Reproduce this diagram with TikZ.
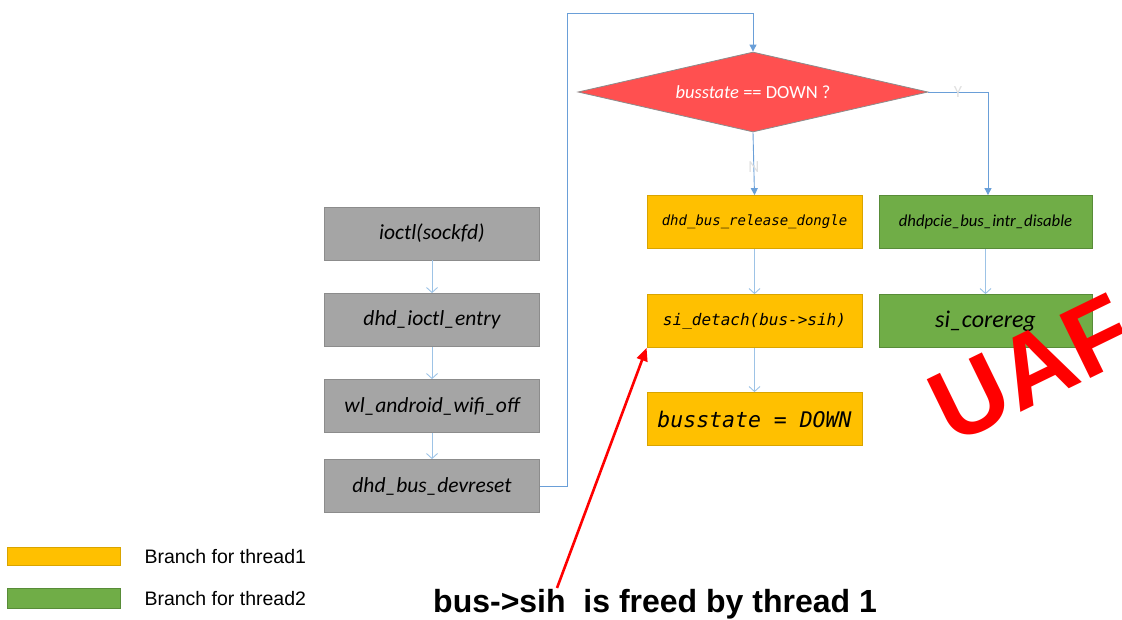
\documentclass[tikz,border=0pt]{standalone}
\usepackage{fontspec}
\setmainfont{Carlito}
\newfontfamily\arialf{Liberation Sans}
\newfontfamily\monof{DejaVu Sans Mono}
\usetikzlibrary{arrows.meta,shapes.geometric}
\definecolor{grayfill}{HTML}{A5A5A5}
\definecolor{grayline}{HTML}{8C8C8C}
\definecolor{orafill}{HTML}{FFC000}
\definecolor{oraline}{HTML}{D9A400}
\definecolor{grnfill}{HTML}{70AD47}
\definecolor{grnline}{HTML}{588C38}
\definecolor{redfill}{HTML}{FF5050}
\definecolor{lightblue}{HTML}{9DC3E6}
\definecolor{midblue}{HTML}{6A9FD8}
\newcommand\myfs[1]{\fontsize{#1}{#1}\selectfont}
\begin{document}
\begin{tikzpicture}[x=1pt,y=-1pt,
  fbox/.style={draw, line width=0.8pt, inner sep=0pt, minimum height=53pt},
  graybox/.style={fbox, fill=grayfill, draw=grayline, minimum width=215pt, font=\itshape\myfs{21.5}},
  orabox/.style={fbox, fill=orafill, draw=oraline, minimum width=215pt},
  grnbox/.style={fbox, fill=grnfill, draw=grnline, minimum width=213pt},
  flow/.style={draw=lightblue, line width=0.9pt, -{Straight Barb[length=5pt,width=11pt]}},
  link/.style={draw=midblue, line width=0.9pt, -{Triangle[length=7pt,width=7pt]}},
  faint/.style={text=black!12, font=\myfs{17}},
  legtext/.style={anchor=west, font=\arialf\myfs{19.5}}
]
\useasboundingbox (0,0) rectangle (1122,619);
\clip (0,0) rectangle (1122,619);

% gray chain
\node[graybox] (g1) at (432,233.5) {ioctl(sockfd)};
\node[graybox] (g2) at (432,320) {dhd\_ioctl\_entry};
\node[graybox] (g3) at (432,406) {wl\_android\_wifi\_off};
\node[graybox] (g4) at (432,486) {dhd\_bus\_devreset};
\draw[flow] (g1) -- (g2);
\draw[flow] (g2) -- (g3);
\draw[flow] (g3) -- (g4);

% decision
\node[diamond, aspect=4.375, draw=grayline, line width=0.8pt, fill=redfill, inner sep=0pt,
      minimum width=350pt, minimum height=80pt, text=white, font=\myfs{18.5}]
      (dec) at (753,92) {\textit{busstate} == DOWN ?};
\coordinate (c1) at (567,486);
\coordinate (c2) at (567,13);
\coordinate (c3) at (753,13);
\draw[link] (g4.east) -- (c1) -- (c2) -- (c3) -- (dec.north);

% thread 1 branch
\node[orabox, font=\monof\itshape\myfs{14}] (o1) at (754.5,222) {dhd\_bus\_release\_dongle};
\node[orabox, font=\monof\itshape\myfs{16}] (o2) at (754.5,321) {si\_detach(bus->sih)};
\node[orabox, font=\monof\itshape\myfs{21.5}] (o3) at (754.5,419) {busstate = DOWN};
\draw[link] (dec.south) -- node[faint, pos=0.55] (nlab) {N} (o1.north);
\draw[flow] (o1) -- (o2);
\draw[flow] (o2) -- (o3);

% thread 2 branch
\node[grnbox, font=\itshape\myfs{16.7}] (e1) at (985.5,222) {dhdpcie\_bus\_intr\_disable};
\node[grnbox, font=\itshape\myfs{24}] (e2) at (985.5,321) {si\_corereg};
\coordinate (c4) at (988,92);
\draw[link] (dec.east) -- (c4) -- (e1.north -| c4);
\node[faint] (ylab) at (958,92) {Y};
\draw[flow] (e1) -- (e2);

% UAF
\node[text=red, font=\arialf\bfseries\myfs{102}, rotate=26, inner sep=0pt, anchor=base west] (uaf) at (952,446) {UAF};

% red pointer
\node[anchor=base west, inner sep=0pt, font=\arialf\bfseries\myfs{32}] (freed) at (433,612) {bus->sih\ \ is freed by thread 1};
\coordinate (rs) at (557,588);
\draw[red, line width=2.6pt, -{Triangle[length=13pt,width=11pt]}] (rs) -- (o2.south west);

% legend
\node[draw=oraline, fill=orafill, line width=0.8pt, minimum width=113pt, minimum height=18pt, inner sep=0pt] (l1) at (63.5,556.5) {};
\node[draw=grnline, fill=grnfill, line width=0.8pt, minimum width=113pt, minimum height=20pt, inner sep=0pt] (l2) at (63.5,598.5) {};
\node[legtext] (t1) at (141,556.5) {Branch for thread1};
\node[legtext] (t2) at (141,598.5) {Branch for thread2};
\end{tikzpicture}
\end{document}
